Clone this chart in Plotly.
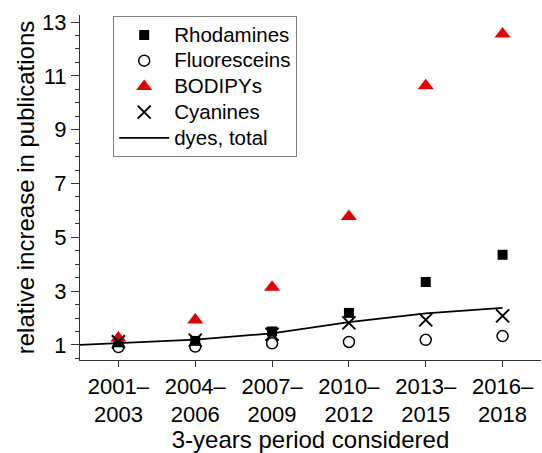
import plotly.graph_objects as go

periods = ["2001–<br>2003", "2004–<br>2006", "2007–<br>2009", "2010–<br>2012", "2013–<br>2015", "2016–<br>2018"]
xpos = [1, 2, 3, 4, 5, 6]

rhodamines = [1.10, 1.15, 1.50, 2.19, 3.34, 4.35]
fluoresceins = [0.92, 0.94, 1.06, 1.11, 1.19, 1.33]
bodipys = [1.26, 1.93, 3.14, 5.77, 10.63, 12.55]
cyanines = [1.12, 1.18, 1.40, 1.82, 1.93, 2.08]

total_x = [0.5, 1, 2, 3, 4, 5, 6]
total_y = [1.00, 1.06, 1.20, 1.43, 1.85, 2.17, 2.38]

FONT = "Liberation Sans, Arial, sans-serif"


def lg(name):
    return '<span style="font-size:20.5px">' + name + '</span>'


fig = go.Figure()
fig.add_trace(go.Scatter(x=xpos, y=rhodamines, mode="markers", name=lg("Rhodamines"),
                         marker=dict(symbol="square", size=10, color="black")))
fig.add_trace(go.Scatter(x=xpos, y=fluoresceins, mode="markers", name=lg("Fluoresceins"),
                         marker=dict(symbol="circle-open", size=11, color="black",
                                     line=dict(width=1.5, color="black"))))
fig.add_trace(go.Scatter(x=xpos, y=bodipys, mode="markers", name=lg("BODIPYs"),
                         marker=dict(symbol="triangle-up", size=14, color="#e00000")))
fig.add_trace(go.Scatter(x=xpos, y=cyanines, mode="markers", name=lg("Cyanines"),
                         marker=dict(symbol="x-thin-open", size=13, color="black",
                                     line=dict(width=2, color="black"))))
fig.add_trace(go.Scatter(x=total_x, y=total_y, mode="lines", name=lg("dyes, total"),
                         line=dict(color="black", width=1.8)))

fig.update_layout(
    width=542, height=453,
    margin=dict(l=80, r=1, t=15, b=93),
    paper_bgcolor="white", plot_bgcolor="white",
    font=dict(family=FONT, color="black", size=22),
    showlegend=True,
    legend=dict(x=0.072, y=0.997, xanchor="left", yanchor="top",
                bgcolor="white", bordercolor="#808080", borderwidth=1,
                font=dict(size=17.5, family=FONT), itemwidth=50,
                tracegroupgap=0),
    xaxis=dict(range=[0.5, 6.5], tickvals=xpos, ticktext=periods,
               showgrid=False, zeroline=False, showline=True, linecolor="#333",
               linewidth=1.2, ticks="outside", ticklen=6, tickcolor="#333",
               tickfont=dict(size=22),
               title=dict(text="3-years period considered", font=dict(size=24), standoff=8)),
    yaxis=dict(range=[0.44, 13.26], tickvals=[1, 3, 5, 7, 9, 11, 13],
               showgrid=False, zeroline=False, showline=True, linecolor="#333",
               linewidth=1.2, ticks="outside", ticklen=8, tickcolor="#333",
               tickfont=dict(size=22),
               minor=dict(dtick=0.5, tick0=0, ticks="outside", ticklen=4, tickcolor="#333"),
               title=dict(text="relative increase in publications", font=dict(size=24), standoff=0)),
)

fig.write_html("out.html", config={"displayModeBar": False},
               post_script="document.body.style.margin='0';document.body.style.overflow='hidden';")
